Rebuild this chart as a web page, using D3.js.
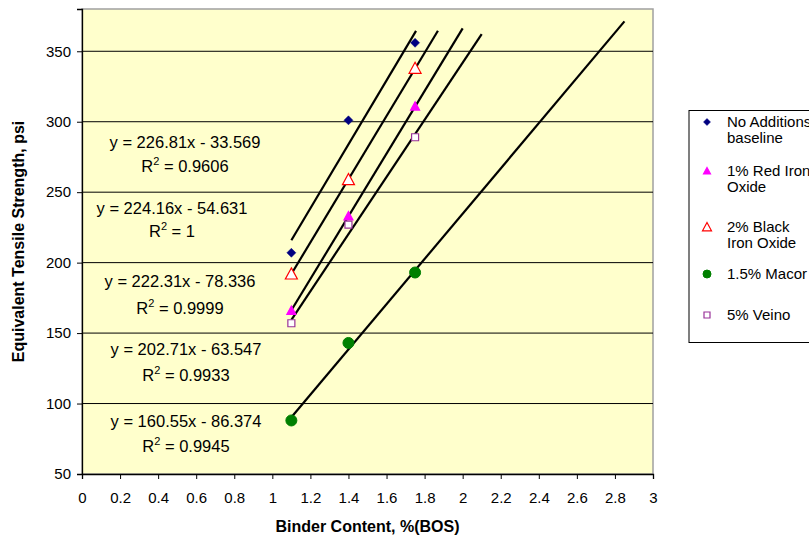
<!DOCTYPE html>
<html>
<head>
<meta charset="utf-8">
<script src="https://cdn.jsdelivr.net/npm/d3@7"></script>
<style>
  html, body { margin: 0; padding: 0; background: #fff; }
  svg { display: block; font-family: "Liberation Sans", Arial, sans-serif; }
</style>
</head>
<body>
<svg id="chart" width="809" height="544"></svg>
<script>
// ---- data ----
const binderContent = [1.1, 1.4, 1.75];
const noAdditions = [207, 301, 356];
const redIronOxide = [166, 233, 311];
const blackIronOxide = [192, 259, 338];
const macor = [88, 143, 193];
const veino = [157, 227, 289];

const seriesNames = ["No Additions baseline", "1% Red Iron Oxide", "2% Black Iron Oxide", "1.5% Macor", "5% Veino"];
const legendLines = [["No Additions", "baseline"], ["1% Red Iron", "Oxide"], ["2% Black", "Iron Oxide"], ["1.5% Macor"], ["5% Veino"]];

// trendlines (equations shown on chart)
const trendSlopes = [226.81, 222.31, 224.16, 160.55, 202.71];
const trendIntercepts = [-33.569, -78.336, -54.631, -86.374, -63.547];
const trendStart = [1.1, 1.1, 1.1, 1.1, 1.1];
const trendEnd = [1.755, 2.0, 1.87, 2.85, 2.1];
const equationText = ["y = 226.81x - 33.569", "y = 222.31x - 78.336", "y = 224.16x - 54.631", "y = 160.55x - 86.374", "y = 202.71x - 63.547"];
const r2Text = ["0.9606", "0.9999", "1", "0.9945", "0.9933"];

const xTicks = d3.range(0, 3.0001, 0.2).map(v => +v.toFixed(1));
const yTicks = [50, 100, 150, 200, 250, 300, 350];
const xDomain = [0, 3];
const yDomain = [50, 380];

// ---- layout / style ----
const plot = { left: 82, right: 653, top: 9, bottom: 474 };
const styles = [
  { shape: "diamond", fill: "#000080", stroke: "#000080", size: 9 },
  { shape: "triangle", fill: "#FF00FF", stroke: "#FF00FF", size: 9 },
  { shape: "triangle", fill: "#FFFFFF", stroke: "#FF0000", size: 12 },
  { shape: "circle", fill: "#008000", stroke: "#008000", size: 11 },
  { shape: "square", fill: "#FFFFFF", stroke: "#993399", size: 7 }
];
const legendStyles = [
  { shape: "diamond", size: 7 },
  { shape: "triangle", size: 7 },
  { shape: "triangle", size: 9 },
  { shape: "circle", size: 8 },
  { shape: "square", size: 6 }
];
// equation label positions (center x, baseline of first line, baseline of R² line)
const eqPos = [
  { x: 185, y1: 148, y2: 172 },
  { x: 180, y1: 287, y2: 314 },
  { x: 172, y1: 214, y2: 237 },
  { x: 186, y1: 427, y2: 452 },
  { x: 186, y1: 355, y2: 381 }
];
const legendY = [122, 171, 227, 274, 315];

const svg = d3.select("#chart");
const x = d3.scaleLinear().domain(xDomain).range([plot.left, plot.right]);
const y = d3.scaleLinear().domain(yDomain).range([plot.bottom, plot.top]);

// plot background
svg.append("rect")
  .attr("x", plot.left).attr("y", plot.top)
  .attr("width", plot.right - plot.left).attr("height", plot.bottom - plot.top)
  .attr("fill", "#FFFFCC").attr("stroke", "#A0A0A0").attr("stroke-width", 1.5);

// gridlines
svg.append("g").selectAll("line")
  .data(yTicks.filter(v => v > yDomain[0]))
  .join("line")
  .attr("x1", plot.left).attr("x2", plot.right)
  .attr("y1", d => y(d)).attr("y2", d => y(d))
  .attr("stroke", "#000").attr("stroke-width", 1);

// axes
const xAxis = d3.axisBottom(x).tickValues(xTicks).tickSize(5).tickPadding(13)
  .tickFormat(d => d3.format("")(+d.toFixed(1)));
const gx = svg.append("g").attr("transform", `translate(0,${plot.bottom})`).call(xAxis);
const yAxis = d3.axisLeft(y).tickValues(yTicks).tickSize(5).tickPadding(6);
const gy = svg.append("g").attr("transform", `translate(${plot.left},0)`).call(yAxis);
[gx, gy].forEach(g => {
  g.select(".domain").attr("stroke", "#000").attr("stroke-width", 1.3);
  g.selectAll(".tick line").attr("stroke", "#000");
  g.selectAll(".tick text").attr("fill", "#000").attr("font-size", 15)
    .attr("font-family", "'Liberation Sans', Arial, sans-serif");
});

// axis titles
svg.append("text")
  .attr("x", (plot.left + plot.right) / 2).attr("y", 532)
  .attr("text-anchor", "middle").attr("font-weight", "bold").attr("font-size", 16)
  .text("Binder Content, %(BOS)");
svg.append("text")
  .attr("transform", `translate(24,${(plot.top + plot.bottom) / 2}) rotate(-90)`)
  .attr("text-anchor", "middle").attr("font-weight", "bold").attr("font-size", 16)
  .text("Equivalent Tensile Strength, psi");

// trendlines
const seriesData = [noAdditions, redIronOxide, blackIronOxide, macor, veino];
trendSlopes.forEach((m, i) => {
  const b = trendIntercepts[i];
  svg.append("line")
    .attr("x1", x(trendStart[i])).attr("y1", y(m * trendStart[i] + b))
    .attr("x2", x(trendEnd[i])).attr("y2", y(m * trendEnd[i] + b))
    .attr("stroke", "#000").attr("stroke-width", 2.2);
});

function markerPath(shape, s) {
  const h = s / 2;
  if (shape === "diamond") return `M0,${-h}L${h},0L0,${h}L${-h},0Z`;
  if (shape === "triangle") return `M0,${-h}L${h},${h * 0.85}L${-h},${h * 0.85}Z`;
  if (shape === "square") return `M${-h},${-h}H${h}V${h}H${-h}Z`;
  return null;
}
function drawMarker(g, st, size, fill, stroke) {
  if (st.shape === "circle") {
    g.append("circle").attr("r", size / 2).attr("fill", fill).attr("stroke", stroke);
  } else {
    g.append("path").attr("d", markerPath(st.shape, size)).attr("fill", fill)
      .attr("stroke", stroke).attr("stroke-width", st.shape === "diamond" ? 0.5 : 1.2);
  }
}

// markers
seriesData.forEach((vals, i) => {
  const st = styles[i];
  const g = svg.append("g");
  g.selectAll("g").data(vals.map((v, j) => [binderContent[j], v])).join("g")
    .attr("transform", d => `translate(${x(d[0])},${y(d[1])})`)
    .each(function () { drawMarker(d3.select(this), st, st.size, st.fill, st.stroke); });
});

// equation labels
equationText.forEach((t, i) => {
  const p = eqPos[i];
  svg.append("text").attr("x", p.x).attr("y", p.y1).attr("text-anchor", "middle")
    .attr("font-size", 16.5).text(t);
  const r = svg.append("text").attr("x", p.x).attr("y", p.y2).attr("text-anchor", "middle")
    .attr("font-size", 16.5);
  r.append("tspan").text("R");
  r.append("tspan").attr("dy", -7).attr("font-size", 11).text("2");
  r.append("tspan").attr("dy", 7).text(" = " + r2Text[i]);
});

// legend
svg.append("rect").attr("x", 689).attr("y", 110.5).attr("width", 140).attr("height", 232)
  .attr("fill", "#fff").attr("stroke", "#000").attr("stroke-width", 1);
legendLines.forEach((lines, i) => {
  const ly = legendY[i];
  const g = svg.append("g").attr("transform", `translate(707,${ly})`);
  drawMarker(g, legendStyles[i], legendStyles[i].size, styles[i].fill, styles[i].stroke);
  const t = svg.append("text").attr("x", 727).attr("y", ly + 5).attr("font-size", 15);
  lines.forEach((ln, k) => {
    t.append("tspan").attr("x", 727).attr("dy", k === 0 ? 0 : 16).text(ln);
  });
});
</script>
</body>
</html>
